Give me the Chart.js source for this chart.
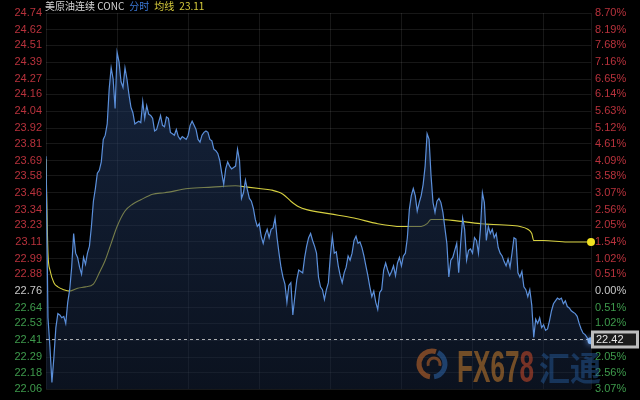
<!DOCTYPE html>
<html>
<head>
<meta charset="utf-8">
<script src="https://cdn.jsdelivr.net/npm/chart.js@4.4.1/dist/chart.umd.min.js"></script>
<style>
  html, body { margin: 0; padding: 0; background: #000; overflow: hidden; }
  canvas { display: block; }
</style>
</head>
<body>
<canvas id="chart" width="640" height="400"></canvas>
<script>
// Tick labels, top to bottom
var priceTicks = ["24.74","24.62","24.51","24.39","24.27","24.16","24.04","23.92","23.81","23.69","23.58","23.46",
                  "23.34","23.23","23.11","22.99","22.88","22.76","22.64","22.53","22.41","22.29","22.18","22.06"];
var pctTicks = ["8.70%","8.19%","7.68%","7.16%","6.65%","6.14%","5.63%","5.12%","4.61%","4.09%","3.58%","3.07%",
                "2.56%","2.05%","1.54%","1.02%","0.51%","0.00%","0.51%","1.02%","1.54%","2.05%","2.56%","3.07%"];
var prevClose = 22.76;
var lastPrice = 22.42;
var avgLast = 23.11;
var sessionMinutes = 1380;   // 06:00 -> 05:00
var stepMinutes = 5;

// Price every 5 minutes
var prices = [
  23.72,22.57,22.36,22.11,22.29,22.50,22.60,22.59,22.57,22.58,
  22.53,22.68,22.77,22.93,23.17,23.03,23.00,22.93,22.88,23.00,
  22.95,23.03,23.08,23.22,23.40,23.49,23.60,23.62,23.68,23.84,
  23.87,23.95,24.20,24.35,24.27,24.06,24.46,24.39,24.25,24.21,
  24.35,24.27,24.16,24.07,24.03,23.95,23.96,23.97,23.96,24.11,
  23.99,24.08,24.02,24.01,23.99,23.90,23.91,23.96,24.01,23.94,
  23.93,24.00,23.99,23.89,23.88,23.87,23.91,23.86,23.84,23.86,
  23.85,23.84,23.87,23.94,23.97,23.94,23.91,23.84,23.82,23.87,
  23.89,23.90,23.89,23.84,23.83,23.77,23.76,23.74,23.69,23.60,
  23.52,23.63,23.68,23.65,23.63,23.64,23.65,23.77,23.69,23.42,
  23.46,23.55,23.48,23.42,23.40,23.35,23.27,23.22,23.24,23.15,
  23.10,23.16,23.20,23.14,23.20,23.21,23.28,23.14,23.03,22.93,
  22.86,22.81,22.68,22.80,22.82,22.59,22.72,22.84,22.91,22.90,
  22.89,23.00,23.08,23.14,23.17,23.12,23.08,23.03,22.86,22.79,
  22.77,22.70,22.77,22.82,23.01,23.15,23.03,23.04,22.94,22.87,
  22.82,22.89,22.93,23.01,22.98,23.03,23.12,23.15,23.10,23.11,
  23.07,23.01,22.94,22.87,22.79,22.72,22.76,22.68,22.63,22.75,
  22.77,22.91,22.96,22.91,22.87,22.90,22.94,22.87,22.96,23.00,
  22.94,23.01,23.03,23.14,23.34,23.44,23.49,23.44,23.33,23.39,
  23.44,23.52,23.65,23.88,23.84,23.58,23.39,23.32,23.40,23.42,
  23.39,23.32,23.21,23.10,22.86,22.98,23.00,23.05,23.10,22.89,
  23.10,23.28,23.20,22.98,23.05,23.06,23.03,23.14,23.12,23.03,
  23.20,23.46,23.39,23.12,23.22,23.17,23.20,23.14,23.17,23.07,
  23.03,23.01,22.97,22.94,22.99,22.93,23.03,23.14,23.13,22.89,
  22.86,22.90,22.79,22.77,22.72,22.77,22.66,22.43,22.56,22.53,
  22.57,22.50,22.52,22.48,22.49,22.55,22.62,22.67,22.69,22.71,
  22.70,22.71,22.67,22.69,22.65,22.64,22.62,22.61,22.60,22.58,
  22.53,22.49,22.46,22.45,22.43,22.40,22.42
];

// Average line (minutes from open, value)
var avgTimes  = [0,5,10,20,30,45,60,80,100,120,135,150,165,180,200,220,240,270,300,360,420,480,510,540,
                 570,600,620,640,660,720,780,840,900,950,965,975,1000,1040,1100,1160,1200,1220,1230,1235,1260,1320,1380];
var avgValues = [23.70,23.03,22.91,22.82,22.79,22.77,22.76,22.78,22.79,22.81,22.89,22.98,23.10,23.22,23.33,23.38,23.41,23.45,23.46,23.49,23.50,23.51,23.50,23.49,
                 23.48,23.45,23.40,23.36,23.34,23.31,23.28,23.24,23.22,23.22,23.24,23.27,23.27,23.26,23.24,23.23,23.22,23.20,23.17,23.12,23.12,23.11,23.11];

var RED = "#b8323c", GREEN = "#3e9a4c", NEUTRAL = "#c8c8c8";
var GRID = "rgba(255,255,255,0.09)";
Chart.defaults.font.family = "'Liberation Sans', Arial, sans-serif";
Chart.defaults.font.size = 11;

function tickColor(v) {
  if (Math.abs(v - prevClose) < 0.005) return NEUTRAL;
  return v > prevClose ? RED : GREEN;
}
function setTicks(axis) {
  axis.ticks = priceTicks.map(function (t) { return { value: parseFloat(t) }; });
}
function labelIndex(v) {
  for (var i = 0; i < priceTicks.length; i++) if (parseFloat(priceTicks[i]) === v) return i;
  return -1;
}

var pricePoints = prices.map(function (v, i) { return { x: i * stepMinutes, y: v }; });
var avgPoints = avgTimes.map(function (t, i) { return { x: t, y: avgValues[i] }; });

var decor = {
  id: "decor",
  afterDraw: function (chart) {
    var ctx = chart.ctx, area = chart.chartArea;
    var xs = chart.scales.x, ys = chart.scales.y;
    ctx.save();

    // header
    ctx.textBaseline = "middle";
    ctx.font = "10px 'Noto Sans CJK SC', sans-serif";
    var parts = [["美原油连续 CONC", "#d4d4d4"], ["分时", "#3b78d6"], ["均线", "#d8cc3c"], [avgLast.toFixed(2), "#d8cc3c"]];
    var x = 45;
    parts.forEach(function (p) {
      ctx.fillStyle = p[1];
      ctx.fillText(p[0], x, 6);
      x += ctx.measureText(p[0]).width + 5;
    });

    // last price dashed line
    var yl = Math.round(ys.getPixelForValue(lastPrice)) + 0.5;
    ctx.strokeStyle = "rgba(225,225,225,0.75)";
    ctx.lineWidth = 1;
    ctx.setLineDash([3, 3]);
    ctx.beginPath();
    ctx.moveTo(area.left, yl);
    ctx.lineTo(area.right, yl);
    ctx.stroke();
    ctx.setLineDash([]);

    // watermark
    ctx.globalAlpha = 0.6;
    var cx = 432, cy = 364;
    ctx.lineWidth = 5;
    ctx.strokeStyle = "#c0662a";
    ctx.beginPath(); ctx.arc(cx, cy, 13, Math.PI * 0.55, Math.PI * 1.6); ctx.stroke();
    ctx.strokeStyle = "#2c5f9e";
    ctx.beginPath(); ctx.arc(cx, cy, 13, Math.PI * 1.65, Math.PI * 2.45); ctx.stroke();
    ctx.lineWidth = 3;
    ctx.strokeStyle = "#b0602a";
    ctx.beginPath(); ctx.arc(cx + 2, cy, 6, Math.PI * 0.9, Math.PI * 2.1); ctx.stroke();

    ctx.textBaseline = "alphabetic";
    ctx.font = "bold 44px 'Liberation Sans', Arial, sans-serif";
    var w1 = ctx.measureText("FX67").width, w2 = ctx.measureText("8").width;
    var sx = 77 / (w1 + w2);
    ctx.save();
    ctx.translate(457, 382);
    ctx.scale(sx, 1);
    ctx.fillStyle = "#b9742c";
    ctx.fillText("FX67", 0, 0);
    ctx.fillStyle = "#c0482a";
    ctx.fillText("8", w1, 0);
    ctx.restore();

    ctx.globalAlpha = 0.5;
    ctx.font = "bold 34px 'Noto Sans CJK SC', sans-serif";
    var w3 = ctx.measureText("汇通").width;
    ctx.save();
    ctx.translate(539, 381);
    ctx.scale(62 / w3, 1);
    ctx.fillStyle = "#245896";
    ctx.fillText("汇通", 0, 0);
    ctx.restore();
    ctx.globalAlpha = 1;

    // end dot of price line
    var px = xs.getPixelForValue((prices.length - 1) * stepMinutes);
    var py = ys.getPixelForValue(prices[prices.length - 1]);
    ctx.shadowColor = "rgba(120,170,255,0.9)";
    ctx.shadowBlur = 6;
    ctx.fillStyle = "#7fb0f0";
    ctx.beginPath(); ctx.arc(px, py + 2, 3.5, 0, Math.PI * 2); ctx.fill();
    ctx.shadowBlur = 0;

    // end dot of average line
    var ay = ys.getPixelForValue(avgLast);
    ctx.fillStyle = "#f0e020";
    ctx.beginPath(); ctx.arc(area.right, ay, 4, 0, Math.PI * 2); ctx.fill();

    // last price box on right axis
    ctx.fillStyle = "#1c1c1c";
    ctx.fillRect(area.right + 1.5, yl - 7.5, 45, 15);
    ctx.strokeStyle = "#bdbdbd";
    ctx.strokeRect(area.right + 1.5, yl - 7.5, 45, 15);
    ctx.fillStyle = "#e8e8e8";
    ctx.font = "11px 'Liberation Sans', Arial, sans-serif";
    ctx.textBaseline = "middle";
    ctx.fillText(lastPrice.toFixed(2), area.right + 5, yl + 0.5);

    ctx.restore();
  }
};

new Chart(document.getElementById("chart"), {
  type: "line",
  data: {
    datasets: [{
      label: "price",
      data: pricePoints,
      borderColor: "#5b8fda",
      borderWidth: 1.2,
      pointRadius: 0,
      tension: 0,
      fill: "start",
      backgroundColor: function (c) {
        var a = c.chart.chartArea;
        if (!a) return "rgba(30,50,90,0.5)";
        var g = c.chart.ctx.createLinearGradient(0, a.top, 0, a.bottom);
        g.addColorStop(0, "rgba(40,68,115,0.55)");
        g.addColorStop(1, "rgba(22,36,62,0.5)");
        return g;
      },
      yAxisID: "y"
    }, {
      label: "avg",
      data: avgPoints,
      borderColor: "#d6d040",
      borderWidth: 1.1,
      pointRadius: 0,
      cubicInterpolationMode: "monotone",
      fill: false,
      yAxisID: "y"
    }]
  },
  options: {
    responsive: false,
    animation: false,
    events: [],
    // the hidden x axis still takes ~3.6px, so bottom padding is trimmed to put the plot bottom at 393
    layout: { padding: { top: 13, bottom: 3.4, left: 0, right: 0 } },
    plugins: { legend: { display: false }, tooltip: { enabled: false } },
    scales: {
      x: {
        type: "linear",
        min: 0,
        max: sessionMinutes,
        afterFit: function (axis) { axis.height = 0; },
        ticks: { display: false, stepSize: 180 },
        grid: { color: GRID, drawTicks: false },
        border: { display: false }
      },
      y: {
        position: "left",
        min: parseFloat(priceTicks[priceTicks.length - 1]),
        max: parseFloat(priceTicks[0]),
        afterBuildTicks: setTicks,
        afterFit: function (axis) { axis.width = 46; },
        ticks: {
          autoSkip: false,
          padding: 4,
          color: function (c) { return tickColor(c.tick.value); },
          callback: function (v) { return priceTicks[labelIndex(v)]; }
        },
        grid: { color: GRID, drawTicks: false },
        border: { display: false }
      },
      y2: {
        position: "right",
        min: parseFloat(priceTicks[priceTicks.length - 1]),
        max: parseFloat(priceTicks[0]),
        afterBuildTicks: setTicks,
        afterFit: function (axis) { axis.width = 49; },
        ticks: {
          autoSkip: false,
          padding: 4,
          color: function (c) { return tickColor(c.tick.value); },
          callback: function (v) { return pctTicks[labelIndex(v)]; }
        },
        grid: { display: false, drawTicks: false },
        border: { display: false }
      }
    }
  },
  plugins: [decor]
});
</script>
</body>
</html>
